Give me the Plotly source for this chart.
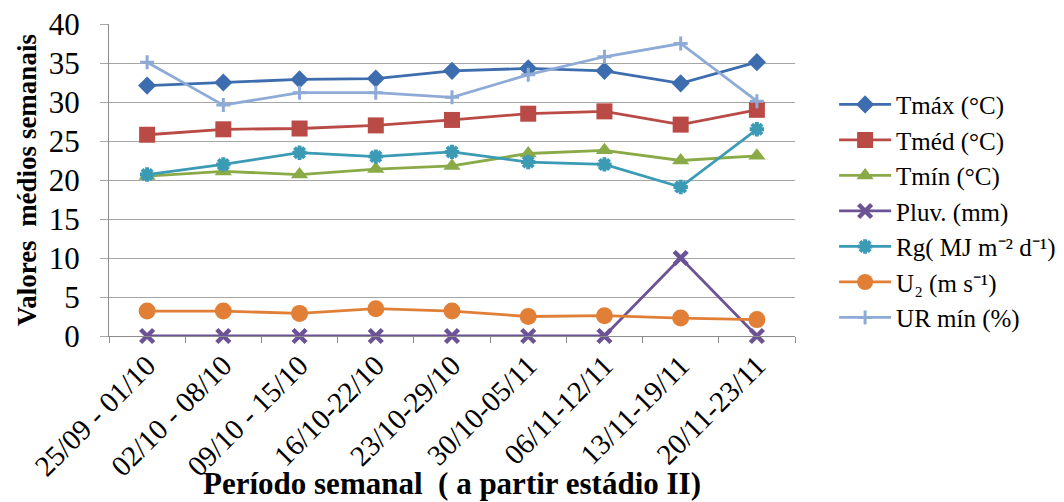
import plotly.graph_objects as go

periods = ["25/09 - 01/10", "02/10 - 08/10", "09/10 - 15/10", "16/10-22/10",
           "23/10-29/10", "30/10-05/11", "06/11-12/11", "13/11-19/11", "20/11-23/11"]

tmax = [32.1, 32.5, 32.9, 33.0, 34.0, 34.3, 34.0, 32.4, 35.1]
tmed = [25.8, 26.5, 26.6, 27.0, 27.7, 28.5, 28.8, 27.1, 29.0]
tmin = [20.5, 21.1, 20.7, 21.4, 21.8, 23.4, 23.8, 22.5, 23.1]
pluv = [0, 0, 0, 0, 0, 0, 0, 10.0, 0]
rg = [20.7, 22.0, 23.5, 23.0, 23.6, 22.3, 22.0, 19.1, 26.5]
u2 = [3.2, 3.2, 2.9, 3.5, 3.2, 2.5, 2.6, 2.3, 2.1]
ur_min = [35.1, 29.6, 31.2, 31.2, 30.6, 33.5, 35.8, 37.5, 30.1]

x_title = "Período semanal  ( a partir estádio II)"
y_title = "Valores  médios semanais"

SERIF = "Liberation Serif, Times New Roman, serif"

# name, values, colour, marker symbol, marker size, marker outline width
series = [
    ("Tmáx (°C)", tmax, "#3D6DAE", "diamond", 14, 0),
    ("Tméd (°C)", tmed, "#B94A46", "square", 16, 0),
    ("Tmín (°C)", tmin, "#8AAA48", "triangle-up", 15, 0),
    ("Pluv. (mm)", pluv, "#6B5396", "x-thin-open", 13, 4.5),
    ("Rg( MJ m⁻² d⁻¹)", rg, "#3B9BB5", "asterisk-open", 12, 4),
    ("U₂ (m s⁻¹)", u2, "#E07F35", "circle", 17, 0),
    ("UR mín (%)", ur_min, "#8EAAD6", "cross-thin-open", 10, 3),
]

fig = go.Figure()
for i, (name, vals, color, sym, size, lw) in enumerate(series):
    marker = dict(symbol=sym, size=size, color=color)
    if lw:
        marker["line"] = dict(color=color, width=lw)
    else:
        marker["line"] = dict(width=0)
    fig.add_trace(go.Scatter(
        x=periods, y=vals, name=name, mode="lines+markers",
        line=dict(color=color, width=2.8), marker=marker,
        legendgroup=f"g{i}", cliponaxis=False,
    ))

fig.update_layout(
    width=1064, height=502,
    margin=dict(l=109, r=269, t=24, b=166, autoexpand=False),
    paper_bgcolor="white", plot_bgcolor="white",
    font=dict(family=SERIF, color="black"),
    showlegend=True,
    legend=dict(
        x=1.057, xanchor="left", y=0.815, yanchor="top",
        font=dict(family=SERIF, size=25, color="black"),
        tracegroupgap=0, itemwidth=52,
        bgcolor="rgba(0,0,0,0)",
    ),
)

fig.update_xaxes(
    type="category",
    tickangle=-45,
    tickfont=dict(family=SERIF, size=29, color="black"),
    showgrid=False,
    showline=True, linecolor="#8C8C8C", linewidth=1,
    ticks="outside", tickson="boundaries", ticklen=6, tickcolor="#8C8C8C",
    range=[-0.5, 8.5],
)

fig.update_yaxes(
    range=[0, 40], dtick=5,
    tickfont=dict(family=SERIF, size=31, color="black"),
    ticklabelstandoff=14,
    showgrid=True, gridcolor="#A6A6A6", gridwidth=1,
    showline=True, linecolor="#8C8C8C", linewidth=1,
    ticks="outside", ticklen=8, tickcolor="#A6A6A6",
    zeroline=False,
    title=dict(text=f"<b>{y_title}</b>",
               font=dict(family=SERIF, size=27, color="black"),
               standoff=4),
)

# x-axis title sits over the lower part of the slanted tick labels
fig.add_annotation(
    text=f"<b>{x_title}</b>", xref="paper", yref="paper",
    x=0.5, y=0, xanchor="center", yanchor="middle", yshift=-147,
    showarrow=False, font=dict(family=SERIF, size=31, color="black"),
)

fig.write_html("out.html")
